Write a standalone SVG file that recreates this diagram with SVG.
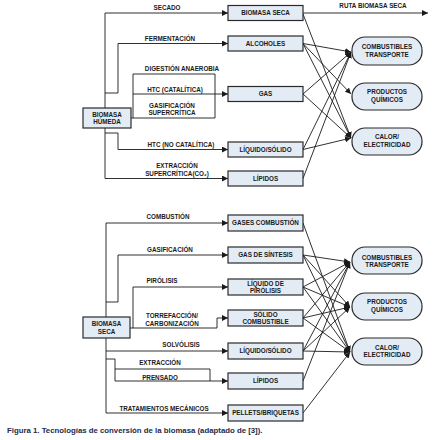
<svg xmlns="http://www.w3.org/2000/svg" width="440" height="440" viewBox="0 0 440 440">
<defs>
<marker id="ah" markerUnits="userSpaceOnUse" markerWidth="7" markerHeight="6" refX="6" refY="3" orient="auto">
<path d="M0,0 L6,3 L0,6 z" fill="#1a1a1a"/>
</marker>
<style>
.box{fill:#e3ebf5;stroke:#2a2a2a;stroke-width:1.2}
.out{fill:#e3ebf5;stroke:#2a2a2a;stroke-width:1.2}
.t{font-family:"Liberation Sans",Arial,sans-serif;font-weight:bold;font-size:6.3px;fill:#1a1a1a;text-anchor:middle}
.ln{fill:none;stroke:#1a1a1a;stroke-width:0.9}
.a{marker-end:url(#ah)}
.cap{font-family:"Liberation Sans",Arial,sans-serif;font-weight:bold;font-size:7.8px;fill:#1b2a4a}
</style>
</defs>
<rect width="440" height="440" fill="#ffffff"/>

<g id="connectors">
<!-- top left -->
<path class="ln a" d="M105,108 V13 H228"/>
<path class="ln a" d="M105,93 H118 V43.5 H228"/>
<path class="ln" d="M131,118 H215 V74 H133 V118"/>
<path class="ln a" d="M133,94 H228"/>
<path class="ln a" d="M105,128 V178.5 H228"/>
<path class="ln a" d="M105,133 H118 V149.5 H228"/>
<path class="ln a" d="M303,13 H428"/>
<!-- top right -->
<path class="ln a" d="M303,14 L351,138"/>
<path class="ln a" d="M303,43.5 L351,52"/>
<path class="ln a" d="M303,43.5 L351,94"/>
<path class="ln a" d="M303,43.5 L351,138"/>
<path class="ln a" d="M303,94 L351,52"/>
<path class="ln a" d="M303,94 L351,138"/>
<path class="ln a" d="M303,149.5 L351,52"/>
<path class="ln a" d="M303,149.5 L351,138"/>
<path class="ln a" d="M303,178.5 L351,52"/>
<!-- bottom left -->
<path class="ln a" d="M106,317 V223 H228"/>
<path class="ln a" d="M106,302 H118 V255 H228"/>
<path class="ln a" d="M133,328 V287 H228"/>
<path class="ln a" d="M130,328 H217 V318 H228"/>
<path class="ln a" d="M106,338 V413 H228"/>
<path class="ln a" d="M106,351 H228"/>
<path class="ln a" d="M106,359 H115 V381 H228"/>
<path class="ln" d="M115,369 H210 V381"/>
<!-- bottom right -->
<path class="ln a" d="M303,223 L350,352"/>
<path class="ln a" d="M303,255 L350,262"/>
<path class="ln a" d="M303,255 L350,307"/>
<path class="ln a" d="M303,255 L350,352"/>
<path class="ln a" d="M303,287 L350,262"/>
<path class="ln a" d="M303,287 L350,307"/>
<path class="ln a" d="M303,287 L350,352"/>
<path class="ln a" d="M303,318 L350,262"/>
<path class="ln a" d="M303,318 L350,307"/>
<path class="ln a" d="M303,318 L350,352"/>
<path class="ln a" d="M303,351 L350,262"/>
<path class="ln a" d="M303,351 L350,307"/>
<path class="ln a" d="M303,351 L350,352"/>
<path class="ln a" d="M303,381 L350,262"/>
<path class="ln a" d="M303,413 L350,352"/>
</g>

<g id="edge-labels">
<text class="t" x="167" y="10">SECADO</text>
<text class="t" x="170" y="41">FERMENTACIÓN</text>
<text class="t" x="182" y="71">DIGESTIÓN ANAEROBIA</text>
<text class="t" x="175" y="92">HTC (CATALÍTICA)</text>
<text class="t" x="172" y="107.5">GASIFICACIÓN</text>
<text class="t" x="172" y="114.5">SUPERCRÍTICA</text>
<text class="t" x="181" y="147">HTC (NO CATALÍTICA)</text>
<text class="t" x="177" y="168">EXTRACCIÓN</text>
<text class="t" x="177" y="176">SUPERCRÍTICA(CO₂)</text>
<text class="t" x="373" y="8">RUTA BIOMASA SECA</text>
<text class="t" x="168" y="219">COMBUSTIÓN</text>
<text class="t" x="170" y="252">GASIFICACIÓN</text>
<text class="t" x="162" y="283">PIRÓLISIS</text>
<text class="t" x="172" y="318">TORREFACCIÓN/</text>
<text class="t" x="172" y="326">CARBONIZACIÓN</text>
<text class="t" x="181" y="347">SOLVÓLISIS</text>
<text class="t" x="160" y="365">EXTRACCIÓN</text>
<text class="t" x="160" y="380">PRENSADO</text>
<text class="t" x="164" y="411">TRATAMIENTOS MECÁNICOS</text>
</g>

<g id="biomasa-humeda"><rect class="box" x="83" y="108" width="48" height="20"/><text class="t" x="107" y="116.5">BIOMASA</text><text class="t" x="107" y="124">HÚMEDA</text></g>
<g id="t-biomasa-seca"><rect class="box" x="228" y="5.5" width="75" height="15"/><text class="t" x="265.5" y="15.2">BIOMASA SECA</text></g>
<g id="t-alcoholes"><rect class="box" x="228" y="36" width="75" height="15"/><text class="t" x="265.5" y="45.7">ALCOHOLES</text></g>
<g id="t-gas"><rect class="box" x="228" y="86.5" width="75" height="15"/><text class="t" x="265.5" y="96.2">GAS</text></g>
<g id="t-liquido-solido"><rect class="box" x="228" y="142" width="75" height="15"/><text class="t" x="265.5" y="151.7">LÍQUIDO/SÓLIDO</text></g>
<g id="t-lipidos"><rect class="box" x="228" y="171" width="75" height="15"/><text class="t" x="265.5" y="180.7">LÍPIDOS</text></g>

<g id="t-combustibles"><rect class="out" x="352" y="37" width="70" height="28" rx="13"/><text class="t" x="387" y="49">COMBUSTIBLES</text><text class="t" x="387" y="57">TRANSPORTE</text></g>
<g id="t-productos"><rect class="out" x="352" y="83" width="70" height="27" rx="13"/><text class="t" x="387" y="94">PRODUCTOS</text><text class="t" x="387" y="101.5">QUÍMICOS</text></g>
<g id="t-calor"><rect class="out" x="352" y="128" width="70" height="27" rx="13"/><text class="t" x="387" y="139">CALOR/</text><text class="t" x="387" y="146.5">ELECTRICIDAD</text></g>

<g id="biomasa-seca"><rect class="box" x="83" y="317" width="47" height="21"/><text class="t" x="106.5" y="326">BIOMASA</text><text class="t" x="106.5" y="334">SECA</text></g>
<g id="b-gases-combustion"><rect class="box" x="228" y="215" width="75" height="16"/><text class="t" x="265.5" y="225.2">GASES COMBUSTIÓN</text></g>
<g id="b-gas-sintesis"><rect class="box" x="228" y="247" width="75" height="16"/><text class="t" x="265.5" y="257.2">GAS DE SÍNTESIS</text></g>
<g id="b-liquido-pirolisis"><rect class="box" x="228" y="279" width="75" height="16"/><text class="t" x="265.5" y="285.5">LÍQUIDO DE</text><text class="t" x="265.5" y="292.5">PIRÓLISIS</text></g>
<g id="b-solido-combustible"><rect class="box" x="228" y="310" width="75" height="16"/><text class="t" x="265.5" y="316.5">SÓLIDO</text><text class="t" x="265.5" y="323.5">COMBUSTIBLE</text></g>
<g id="b-liquido-solido"><rect class="box" x="228" y="343" width="75" height="16"/><text class="t" x="265.5" y="353.2">LÍQUIDO/SÓLIDO</text></g>
<g id="b-lipidos"><rect class="box" x="228" y="373" width="75" height="16"/><text class="t" x="265.5" y="383.2">LÍPIDOS</text></g>
<g id="b-pellets"><rect class="box" x="228" y="405" width="75" height="16"/><text class="t" x="265.5" y="415.2">PELLETS/BRIQUETAS</text></g>

<g id="b-combustibles"><rect class="out" x="352" y="247" width="70" height="27" rx="13"/><text class="t" x="387" y="259.5">COMBUSTIBLES</text><text class="t" x="387" y="266.5">TRANSPORTE</text></g>
<g id="b-productos"><rect class="out" x="352" y="293" width="70" height="27" rx="13"/><text class="t" x="387" y="304">PRODUCTOS</text><text class="t" x="387" y="311.5">QUÍMICOS</text></g>
<g id="b-calor"><rect class="out" x="352" y="338" width="70" height="27" rx="13"/><text class="t" x="387" y="349.5">CALOR/</text><text class="t" x="387" y="357">ELECTRICIDAD</text></g>

<text class="cap" x="7" y="433">Figura 1. Tecnologías de conversión de la biomasa (adaptado de [3]).</text>
</svg>
